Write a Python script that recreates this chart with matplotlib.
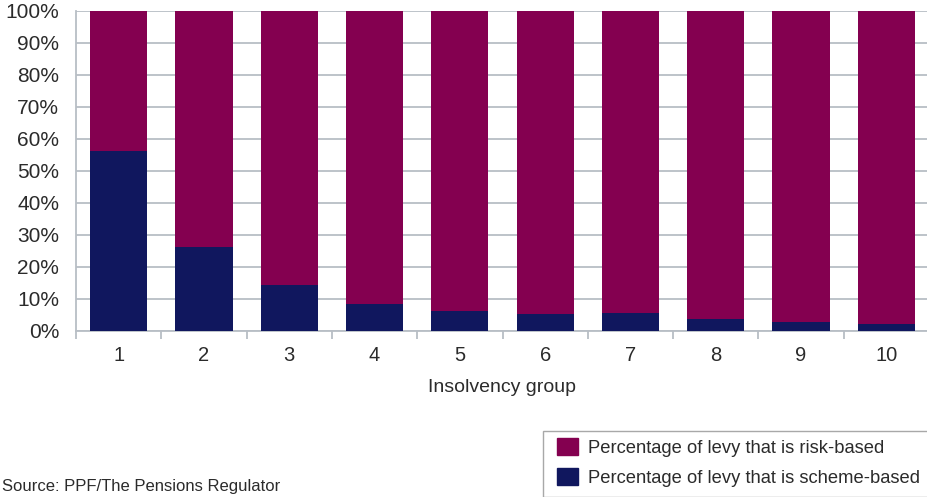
import matplotlib
matplotlib.use("Agg")
import matplotlib.pyplot as plt
from matplotlib.patches import Rectangle, Patch

groups = ["1", "2", "3", "4", "5", "6", "7", "8", "9", "10"]
scheme_based = [56.2, 26.3, 14.5, 8.5, 6.2, 5.4, 5.6, 3.8, 2.9, 2.1]
risk_based = [100 - s for s in scheme_based]

purple = "#840050"
navy = "#10175e"
grey = "#b8bec5"
txt = "#2b2b2b"

plt.rcParams["font.family"] = ["Liberation Sans", "DejaVu Sans"]

fig = plt.figure(figsize=(9.27, 4.97), dpi=100)
ax = fig.add_axes([76 / 927, 166 / 497, 853 / 927, 320 / 497])

x = list(range(1, len(groups) + 1))
ax.bar(x, scheme_based, width=0.67, color=navy, zorder=3)
ax.bar(x, risk_based, width=0.67, bottom=scheme_based, color=purple, zorder=3)

ax.set_xlim(0.5, 10.5)
ax.set_ylim(0, 100)
ax.set_yticks(range(0, 101, 10))
ax.set_yticklabels([f"{v}%" for v in range(0, 101, 10)])
ax.set_xticks(x)
ax.set_xticklabels(groups)
ax.set_xticks([i + 0.5 for i in range(0, 11)], minor=True)
ax.tick_params(axis="x", which="major", length=0, pad=11, labelsize=14.5, labelcolor=txt)
ax.tick_params(axis="x", which="minor", length=6, width=1.3, color=grey)
ax.tick_params(axis="y", length=0, pad=12, labelsize=15, labelcolor=txt)

ax.grid(axis="y", color=grey, linewidth=1.3, zorder=0)
for s in ["top", "right"]:
    ax.spines[s].set_visible(False)
for s in ["left", "bottom"]:
    ax.spines[s].set_color(grey)
    ax.spines[s].set_linewidth(1.3)

ax.set_xlabel("Insolvency group", fontsize=14, color=txt, labelpad=10)

# legend box (runs off the figure edge)
fig.patches.append(Rectangle((543 / 927, 0), 0.5, 66 / 497, transform=fig.transFigure,
                             facecolor="white", edgecolor="#a8a8a8", linewidth=1.0))
handles = [Patch(color=purple), Patch(color=navy)]
labels = ["Percentage of levy that is risk-based", "Percentage of levy that is scheme-based"]
fig.legend(handles, labels, loc="upper left", bbox_to_anchor=(542 / 927, 1 - 423 / 497),
           frameon=False, handlelength=1.15, handleheight=1.1,
           handletextpad=0.55, labelspacing=0.6, borderpad=0.3, labelcolor=txt,
           prop={"size": 13.2})

fig.text(2 / 927, 1 - 486 / 497, "Source: PPF/The Pensions Regulator", fontsize=12,
         color=txt, va="center", ha="left")

fig.savefig("out.png", dpi=100)
